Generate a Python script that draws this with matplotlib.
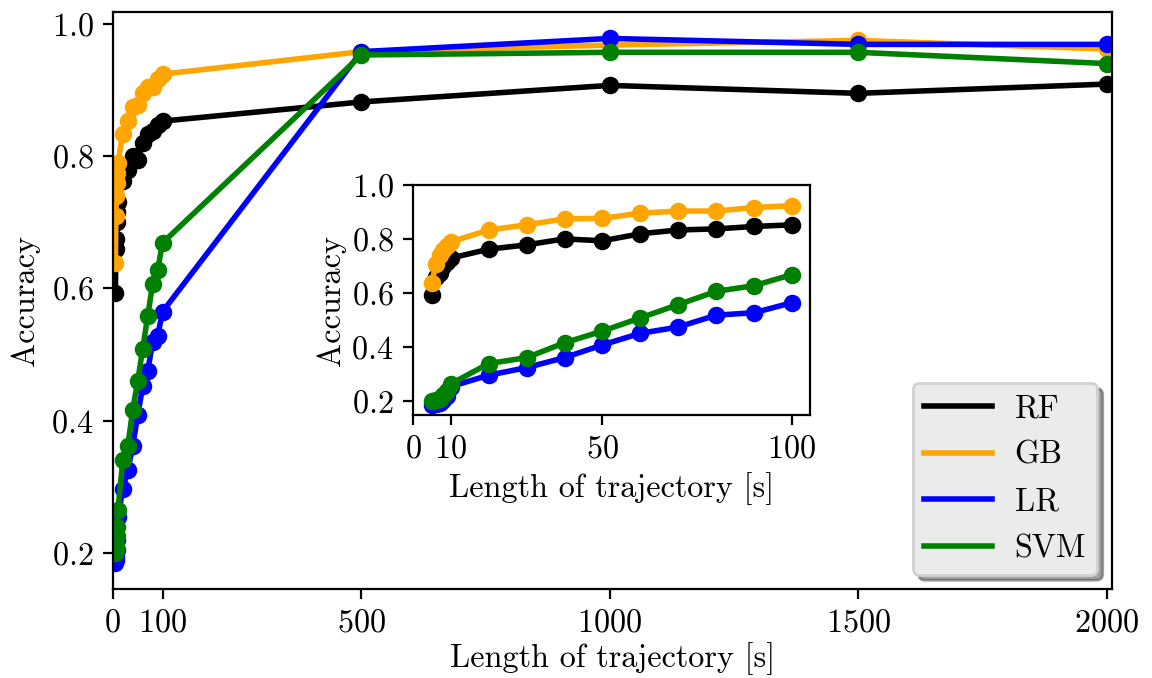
import matplotlib
matplotlib.use("Agg")
import matplotlib.pyplot as plt

plt.rcParams['font.family'] = 'serif'
plt.rcParams['font.serif'] = ['cmr10']
plt.rcParams['mathtext.fontset'] = 'cm'
plt.rcParams['axes.formatter.use_mathtext'] = True
plt.rcParams['font.size'] = 11.6

# Trajectory lengths [s]
x_short = [5, 6, 7, 8, 9, 10, 20, 30, 40, 50, 60, 70, 80, 90, 100]
x_long = [500, 1000, 1500, 2000]

rf_short = [0.593, 0.660, 0.675, 0.700, 0.715, 0.730, 0.763, 0.779, 0.801, 0.794, 0.820, 0.834, 0.838, 0.847, 0.853]
gb_short = [0.638, 0.710, 0.740, 0.760, 0.775, 0.790, 0.834, 0.853, 0.875, 0.877, 0.896, 0.904, 0.904, 0.917, 0.924]
lr_short = [0.185, 0.190, 0.195, 0.205, 0.220, 0.255, 0.297, 0.325, 0.362, 0.409, 0.452, 0.475, 0.519, 0.528, 0.565]
svm_short = [0.200, 0.205, 0.210, 0.225, 0.240, 0.265, 0.340, 0.362, 0.417, 0.460, 0.509, 0.558, 0.607, 0.628, 0.669]

rf_long = [0.882, 0.907, 0.895, 0.909]
gb_long = [0.958, 0.968, 0.975, 0.962]
lr_long = [0.958, 0.978, 0.969, 0.969]
svm_long = [0.953, 0.957, 0.957, 0.940]

labels = ['RF', 'GB', 'LR', 'SVM']
colors = ['black', 'orange', 'blue', 'green']

series_short = [rf_short, gb_short, lr_short, svm_short]
series_long = [rf_long, gb_long, lr_long, svm_long]

fig = plt.figure(figsize=(5.76, 3.39), dpi=200)
ax = fig.add_axes([0.098, 0.131, 0.867, 0.851])

x_all = x_short + x_long
handles = []
for lab, col, ys, yl in zip(labels, colors, series_short, series_long):
    ax.plot(x_all, ys + yl, color=col, lw=2.0, marker='o', ms=5.3)
    h, = ax.plot([], [], color=col, lw=2.0, label=lab)
    handles.append(h)

ax.set_xlim(0, 2010)
ax.set_xticks([0, 100, 500, 1000, 1500, 2000])
ax.set_yticks([0.2, 0.4, 0.6, 0.8, 1.0])
ax.set_xlabel('Length of trajectory [s]', labelpad=1.5)
ax.set_ylabel('Accuracy')

leg = ax.legend(handles=handles, loc='lower right', shadow=True, fancybox=True,
                handlelength=2.1, handletextpad=0.7, labelspacing=0.55,
                borderpad=0.35, borderaxespad=0.45,
                facecolor='0.92', edgecolor='0.82', framealpha=1.0)

ins = fig.add_axes([0.3585, 0.388, 0.3446, 0.339])
for lab, col, ys in zip(labels, colors, series_short):
    ins.plot(x_short, ys, color=col, lw=2.0, marker='o', ms=5.3)
ins.set_xlim(0, 104.75)
ins.set_ylim(0.15, 1.0)
ins.set_xticks([0, 10, 50, 100])
ins.set_yticks([0.2, 0.4, 0.6, 0.8, 1.0])
ins.set_xlabel('Length of trajectory [s]', labelpad=3)
ins.set_ylabel('Accuracy', labelpad=2)

fig.savefig('out.png', dpi=200)
